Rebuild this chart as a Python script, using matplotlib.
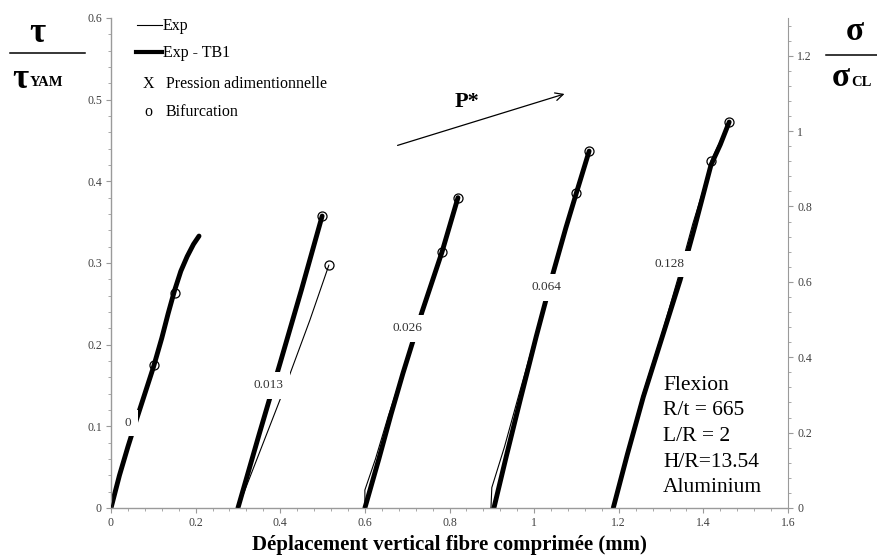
import matplotlib
matplotlib.use("Agg")
import matplotlib.pyplot as plt
from matplotlib.lines import Line2D
from matplotlib.ticker import MultipleLocator, FuncFormatter

SERIF = "Liberation Serif"
plt.rcParams['font.family'] = [SERIF, 'DejaVu Serif']

# ---- data ----
pressure_labels = ["0", "0.013", "0.026", "0.064", "0.128"]
label_x = [0.04, 0.371, 0.70, 1.03, 1.32]
label_y = [0.104, 0.150, 0.220, 0.270, 0.299]

# Exp - TB1 (thick)
tb1_x = [
    [0.0, 0.02, 0.04, 0.06, 0.08, 0.10, 0.12, 0.135, 0.15, 0.165, 0.18, 0.195, 0.208],
    [0.30, 0.35, 0.40, 0.45, 0.499],
    [0.60, 0.633, 0.662, 0.69, 0.735, 0.782, 0.82],
    [0.905, 0.935, 0.967, 1.005, 1.045, 1.075, 1.10, 1.13],
    [1.187, 1.22, 1.258, 1.30, 1.345, 1.38, 1.418, 1.44, 1.461],
]
tb1_y = [
    [0.0, 0.04, 0.075, 0.108, 0.14, 0.172, 0.208, 0.238, 0.266, 0.29, 0.308, 0.323, 0.333],
    [0.0, 0.09, 0.178, 0.267, 0.3575],
    [0.0, 0.06, 0.115, 0.165, 0.24, 0.313, 0.38],
    [0.0, 0.065, 0.132, 0.21, 0.288, 0.343, 0.386, 0.437],
    [0.0, 0.065, 0.136, 0.205, 0.279, 0.345, 0.42, 0.445, 0.4726],
]
# Exp (thin)
exp_x = [
    [0.0, 0.02, 0.04, 0.06, 0.08, 0.10, 0.135, 0.165, 0.195, 0.208],
    [0.30, 0.36, 0.42, 0.47, 0.515],
    [0.60, 0.60, 0.625, 0.655, 0.695, 0.74, 0.782, 0.82],
    [0.898, 0.90, 0.93, 0.962, 1.00, 1.045, 1.10, 1.13],
    [1.186, 1.22, 1.256, 1.30, 1.342, 1.375, 1.40, 1.418, 1.461],
]
exp_y = [
    [0.0, 0.04, 0.075, 0.108, 0.14, 0.172, 0.238, 0.29, 0.323, 0.333],
    [0.0, 0.08, 0.16, 0.23, 0.2975],
    [0.0, 0.022, 0.06, 0.112, 0.175, 0.245, 0.313, 0.378],
    [0.0, 0.025, 0.075, 0.135, 0.205, 0.288, 0.386, 0.437],
    [0.0, 0.068, 0.138, 0.21, 0.285, 0.348, 0.39, 0.425, 0.4726],
]
# Bifurcation points
bif_x = [0.102, 0.151, 0.499, 0.515, 0.782, 0.82, 1.10, 1.13, 1.418, 1.461]
bif_y = [0.175, 0.263, 0.3575, 0.2975, 0.313, 0.38, 0.386, 0.437, 0.425, 0.4726]

text_lines = ["Flexion", "R/t = 665", "L/R = 2", "H/R=13.54", "Aluminium"]

W, H = 877, 559
fig = plt.figure(figsize=(W / 100, H / 100), dpi=100)
ax = fig.add_axes([111 / W, 1 - 508 / H, (788 - 111) / W, (508 - 18) / H])

GRAY = "#9a9a9a"
TICKC = "#404040"

for xs, ys in zip(exp_x, exp_y):
    ax.plot(xs, ys, color="black", lw=0.8, zorder=3, solid_capstyle="round")
for xs, ys in zip(tb1_x, tb1_y):
    ax.plot(xs, ys, color="black", lw=3.5, zorder=2, solid_capstyle="round",
            solid_joinstyle="round")
ax.plot(bif_x, bif_y, linestyle="none", marker="o", ms=6.5, mfc="none",
        mec="black", mew=0.9, zorder=4)

for lab, lx, ly in zip(pressure_labels, label_x, label_y):
    ax.text(lx, ly, lab, ha="center", va="center", fontsize=9.5, color="#333333",
            zorder=5, bbox=dict(boxstyle="square,pad=0.55", fc="white", ec="none"))

# P* arrow
ax.annotate("", xy=(1.078, 0.508), xytext=(0.671, 0.443),
            arrowprops=dict(arrowstyle="->", lw=0.9, color="black",
                            mutation_scale=14))
ax.text(0.842, 0.497, "P*", fontsize=16, fontweight="bold", ha="center", va="center")

ax.set_xlim(0, 1.6)
ax.set_ylim(0, 0.6)
fmt = FuncFormatter(lambda v, p: "%g" % round(v, 3))
ax.xaxis.set_major_locator(MultipleLocator(0.2))
ax.xaxis.set_minor_locator(MultipleLocator(0.04))
ax.yaxis.set_major_locator(MultipleLocator(0.1))
ax.yaxis.set_minor_locator(MultipleLocator(0.02))
ax.xaxis.set_major_formatter(fmt)
ax.yaxis.set_major_formatter(fmt)

ax.spines["top"].set_visible(False)
ax.spines["right"].set_visible(False)
for s in ("left", "bottom"):
    ax.spines[s].set_color(GRAY)
    ax.spines[s].set_linewidth(1.0)
ax.tick_params(which="both", direction="out", color=GRAY, labelcolor=TICKC,
               labelsize=8.5, pad=3)
ax.tick_params(which="major", length=3.5)
ax.tick_params(which="minor", length=2.5)

ax2 = ax.twinx()
ax2.set_ylim(0, 1.3)
ax2.yaxis.set_major_locator(MultipleLocator(0.2))
ax2.yaxis.set_minor_locator(MultipleLocator(0.04))
ax2.yaxis.set_major_formatter(fmt)
for s in ("top", "left", "bottom"):
    ax2.spines[s].set_visible(False)
ax2.spines["right"].set_color(GRAY)
ax2.tick_params(which="both", direction="out", color=GRAY, labelcolor=TICKC,
                labelsize=8.5, pad=3)
ax2.tick_params(which="major", length=3.5)
ax2.tick_params(which="minor", length=2.5)

ax.set_xlabel("Déplacement vertical fibre comprimée (mm)", fontsize=15,
              fontweight="bold", labelpad=4)


def fx(px):
    return px / W


def fy(py):
    return 1 - py / H


# left y label
fig.text(fx(37), fy(33), "τ", fontsize=25, fontweight="bold", ha="center", va="center")
fig.add_artist(Line2D([fx(10), fx(85)], [fy(53), fy(53)], color="black", lw=1.1))
fig.text(fx(20), fy(80), "τ", fontsize=25, fontweight="bold", ha="center", va="center")
fig.text(fx(30), fy(83), "YAM", fontsize=10.5, fontweight="bold", ha="left", va="center")

# right y label
fig.text(fx(855), fy(31), "σ", fontsize=24, fontweight="bold", ha="center", va="center")
fig.add_artist(Line2D([fx(826), fx(877)], [fy(55), fy(55)], color="black", lw=1.1))
fig.text(fx(841), fy(78), "σ", fontsize=24, fontweight="bold", ha="center", va="center")
fig.text(fx(851), fy(83), "CL", fontsize=10.5, fontweight="bold", ha="left", va="center")

# legend
fig.add_artist(Line2D([fx(137), fx(162)], [fy(25), fy(25)], color="black", lw=0.8))
fig.text(fx(163), fy(26), "Exp", fontsize=11.5, ha="left", va="center")
fig.add_artist(Line2D([fx(136), fx(162)], [fy(52), fy(52)], color="black", lw=3))
fig.text(fx(163), fy(53), "Exp - TB1", fontsize=11.5, ha="left", va="center")
fig.text(fx(143), fy(84), "X", fontsize=11.5, ha="left", va="center")
fig.text(fx(166), fy(84), "Pression adimentionnelle", fontsize=11.5, ha="left", va="center")
fig.text(fx(144), fy(112), "o", fontsize=11.5, ha="left", va="center")
fig.text(fx(166), fy(112), "Bifurcation", fontsize=11.5, ha="left", va="center")

# parameter text
for i, t in enumerate(text_lines):
    fig.text(fx(663), fy(385 + i * 25.7), t, fontsize=15.5, ha="left", va="center")

fig.savefig("out.png", dpi=100)
